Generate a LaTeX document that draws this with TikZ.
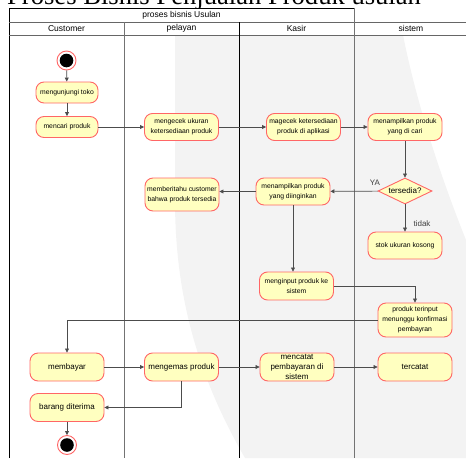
\documentclass[tikz,border=0pt]{standalone}
\usepackage{fontspec}
\setmainfont{Liberation Sans}
\newfontfamily\titlefont{Liberation Serif}
\usetikzlibrary{arrows.meta,shapes.geometric,positioning}
\definecolor{actfill}{HTML}{FFFFC0}
\definecolor{actdraw}{HTML}{FF6666}
\definecolor{wmgray}{HTML}{F3F3F3}
\begin{document}
\begin{tikzpicture}
	% Styles
	[
	x=1pt,y=-1pt,
	activity/.style={rectangle,rounded corners=8pt,draw=actdraw,fill=actfill,line width=0.9pt,minimum width=74pt,minimum height=27pt,inner sep=1pt,align=center,font=\fontsize{6.8}{10}\selectfont},
	bigact/.style={activity,minimum height=28pt,font=\fontsize{8}{10}\selectfont},
	smallact/.style={activity,minimum width=62pt,minimum height=21pt},
	decision/.style={diamond,aspect=2.1,draw=actdraw,fill=actfill,line width=0.9pt,minimum width=54pt,minimum height=26pt,inner sep=0pt,font=\fontsize{8}{10}\selectfont},
	statepoint/.style={circle,draw=actdraw,fill=white,line width=0.9pt,inner sep=0pt,minimum size=19pt,
		path picture={\fill[black] (path picture bounding box.center) circle (6.8pt);}},
	flow/.style={-{Triangle[length=4pt,width=4pt]},draw=black!70,line width=0.7pt},
	lane/.style={font=\fontsize{8.5}{10}\selectfont},
	]

	\useasboundingbox (0,0) rectangle (466,458);

	% Background
	\fill[wmgray] (175,35) -- (403,35) .. controls (420,120) and (450,200) .. (466,240)
		-- (466,458) -- (245,458) .. controls (200,380) and (175,300) .. (175,200) -- cycle;

	% Title
	\node at (7,4) (title) [anchor=base west,inner sep=0pt,font=\titlefont\fontsize{26.6}{26.6}\selectfont] {Proses Bisnis Penjualan Produk usulan};

	% Pool and lanes
	\fill[white] (9,8) rectangle (354,35);
	\fill[white] (354,22) rectangle (466,35);
	\draw[line width=0.8pt] (9,458) -- (9,8) -- (354,8);
	\draw[black!60,line width=0.8pt] (9,22) -- (466,22);
	\draw[black!60,line width=0.8pt] (9,35) -- (466,35);
	\draw[black!55,line width=0.9pt] (124,22) -- (124,458);
	\draw[black,line width=0.8pt] (239,22) -- (239,458);
	\draw[black!55,line width=0.9pt] (354,8) -- (354,458);

	\node at (181.5,15) (pool) [lane] {proses bisnis Usulan};
	\node at (66.5,28.5) (customer) [lane] {Customer};
	\node at (181.5,28.5) (pelayan) [lane] {pelayan};
	\node at (296.5,28.5) (kasir) [lane] {Kasir};
	\node at (411,28.5) (sistem) [lane] {sistem};

	% Nodes
	\node at (66.5,60.5) (start) [statepoint] {};
	\node at (67,92.5) (toko) [smallact] {mengunjungi toko};
	\node at (67,127) (cari) [smallact] {mencari produk};
	\node at (181.5,127) (cekukuran) [activity] {mengecek ukuran\\ketersediaan produk};
	\node at (303.5,127) (cekapp) [activity] {magecek ketersediaan\\produk di aplikasi};
	\node at (405,127) (tampilcari) [activity] {menampilkan produk\\yang di cari};
	\node at (405,191) (tersedia) [decision] {tersedia?};
	\node at (293,191.5) (tampilingin) [activity] {menampilkan produk\\yang diinginkan};
	\node at (182,194.5) (beritahu) [activity,minimum height=33pt] {memberitahu customer\\bahwa produk tersedia};
	\node at (405,245.5) (kosong) [activity] {stok ukuran kosong};
	\node at (296.5,286) (input) [activity,minimum height=28pt] {menginput produk ke\\sistem};
	\node at (415,320) (terinput) [activity,minimum height=34pt] {produk terinput\\menunggu konfirmasi\\pembayran};
	\node at (67,367) (bayar) [bigact] {membayar};
	\node at (181.5,367) (kemas) [bigact] {mengemas produk};
	\node at (297,367) (catat) [bigact] {mencatat\\pembayaran di\\sistem};
	\node at (415,367) (tercatat) [bigact] {tercatat};
	\node at (67,407.5) (terima) [bigact] {barang diterima};
	\node at (67,445) (stop) [statepoint] {};

	% Arrows
	\draw[flow] (start) -- (toko);
	\draw[flow] (toko) -- (cari);
	\draw[flow] (cari) -- (cekukuran);
	\draw[flow] (cekukuran) -- (cekapp);
	\draw[flow] (cekapp) -- (tampilcari);
	\draw[flow] (tampilcari) -- (tersedia);
	\draw[flow] (tersedia) -- (tampilingin);
	\draw[flow] (tampilingin.west) -- (tampilingin.west -| beritahu.east);
	\draw[flow] (tersedia) -- (kosong);
	\draw[flow] (tampilingin.south) -- (tampilingin.south |- input.north);
	\draw[flow] (input.east) -| (terinput.north);
	\draw[flow] (terinput.west) -| (bayar.north);
	\draw[flow] (bayar) -- (kemas);
	\draw[flow] (kemas) -- (catat);
	\draw[flow] (catat) -- (tercatat);
	\draw[flow] (kemas.south) |- (terima.east);
	\draw[flow] (terima) -- (stop);

	% Text
	\node at (375,183) (ya) [font=\fontsize{8}{10}\selectfont,text=black!75] {YA};
	\node at (422,224) (tidak) [font=\fontsize{8}{10}\selectfont,text=black!75] {tidak};
\end{tikzpicture}
\end{document}
